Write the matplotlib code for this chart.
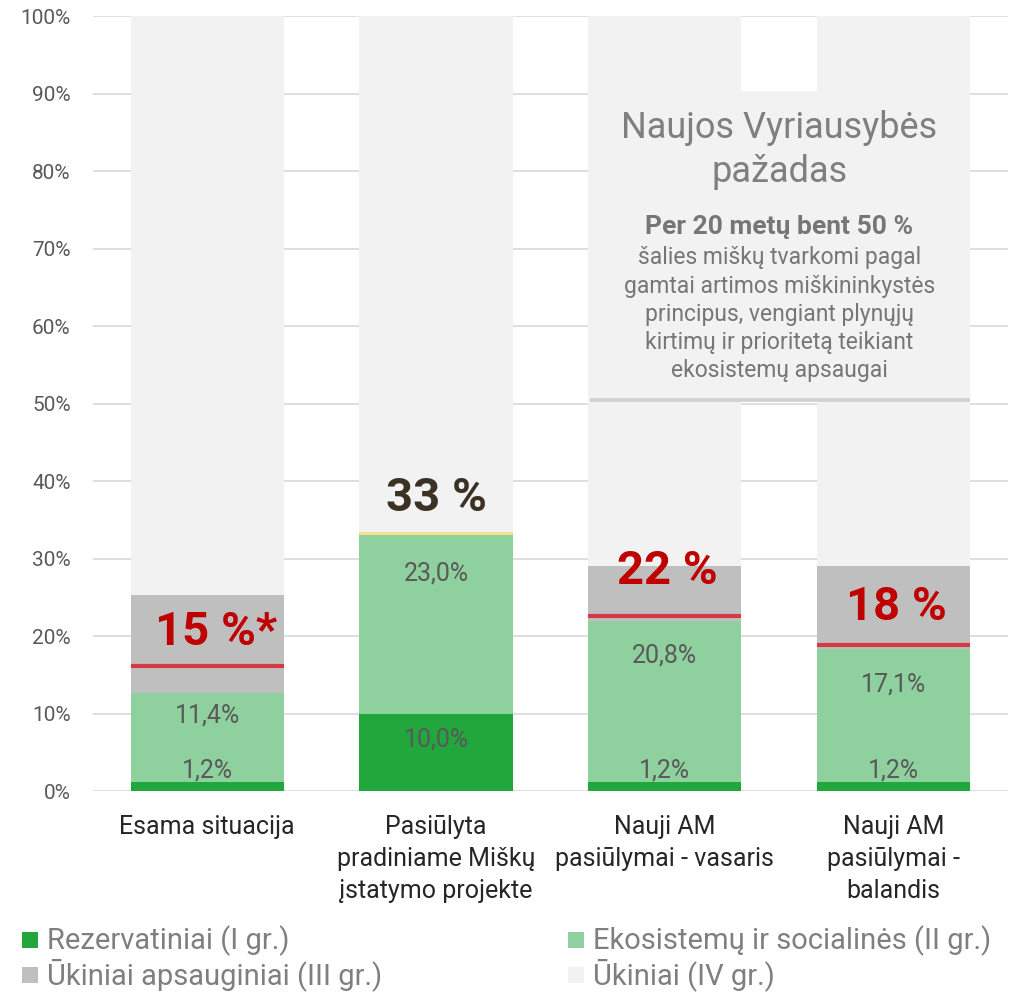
import numpy as np
import matplotlib.pyplot as plt
from matplotlib.patches import Rectangle

categories = ["Esama situacija",
              "Pasiūlyta\npradiniame Miškų\nįstatymo projekte",
              "Nauji AM\npasiūlymai - vasaris",
              "Nauji AM\npasiūlymai -\nbalandis"]
gr1 = [1.2, 10.0, 1.2, 1.2]
gr2 = [11.4, 23.0, 20.8, 17.1]
extra = [0.0, 0.4, 0.0, 0.0]          # thin yellow band on bar 2
gr3 = [12.7, 0.0, 7.0, 10.7]
totals = [100, 100, 100, 100]
red_line = [16.1, None, 22.6, 18.8]
big_labels = ["15 %*", "33 %", "22 %", "18 %"]
big_colors = ["#c00000", "#3b3124", "#c00000", "#c00000"]
big_y = [20.5, 37.8, 28.4, 23.8]
big_dx = [0.04, 0.0, 0.01, 0.01]
gr1_labels = ["1,2%", "10,0%", "1,2%", "1,2%"]
gr1_label_y = [2.7, 6.7, 2.7, 2.7]
gr2_labels = ["11,4%", "23,0%", "20,8%", "17,1%"]
gr2_label_y = [9.7, 28.1, 17.5, 13.7]
legend_names = ["Rezervatiniai (I gr.)", "Ekosistemų ir socialinės (II gr.)",
                "Ūkiniai apsauginiai (III gr.)", "Ūkiniai (IV gr.)"]

c1, c2, c3, c4, cy = "#21a73c", "#8fd19e", "#bfbfbf", "#f2f2f2", "#f5e08e"
plt.rcParams['font.family'] = ['Roboto', 'DejaVu Sans']

fig = plt.figure(figsize=(10.1, 9.97), dpi=100)
ax = fig.add_axes([0.092, 0.2066, 0.906, 0.7773])
x = np.arange(len(categories))
w = 0.67

b1 = np.array(gr1)
b2 = b1 + np.array(gr2)
b3 = b2 + np.array(extra)
b4 = b3 + np.array(gr3)
ax.bar(x, gr1, w, color=c1, zorder=2)
ax.bar(x, gr2, w, bottom=b1, color=c2, zorder=2)
ax.bar(x, extra, w, bottom=b2, color=cy, zorder=2)
ax.bar(x, gr3, w, bottom=b3, color=c3, zorder=2)
ax.bar(x, np.array(totals) - b4, w, bottom=b4, color=c4, zorder=2)

for i in range(len(x)):
    if red_line[i] is not None:
        ax.plot([x[i] - w / 2, x[i] + w / 2], [red_line[i]] * 2, color="#d43a45",
                lw=3, solid_capstyle="butt", zorder=4)
    ax.text(x[i] + big_dx[i], big_y[i], big_labels[i], ha="center", va="center",
            fontsize=34, fontweight="bold", color=big_colors[i], zorder=6)
    ax.text(x[i], gr1_label_y[i], gr1_labels[i], ha="center", va="center",
            fontsize=18, color="#595959", zorder=5)
    ax.text(x[i], gr2_label_y[i], gr2_labels[i], ha="center", va="center",
            fontsize=18, color="#595959", zorder=5)

# promise box over bars 3-4
bx0, bx1 = x[2] - w / 2, x[3] + w / 2
ax.add_patch(Rectangle((bx0, 50.3), bx1 - bx0, 40.0, facecolor=c4,
                       edgecolor="none", zorder=3))
ax.plot([bx0 + 0.01, bx1], [50.4, 50.4], color="#d0d0d0", lw=2.6,
        solid_capstyle="butt", zorder=4)
bxc = (bx0 + bx1) / 2
ax.text(bxc, 85.5, "Naujos Vyriausybės", ha="center", va="center",
        fontsize=26, color="#7f7f7f", zorder=5)
ax.text(bxc, 79.9, "pažadas", ha="center", va="center",
        fontsize=26, color="#7f7f7f", zorder=5)
ax.text(bxc, 72.8, "Per 20 metų bent 50 %", ha="center", va="center",
        fontsize=19, fontweight="bold", color="#767676", zorder=5)
body = ["šalies miškų tvarkomi pagal", "gamtai artimos miškininkystės",
        "principus, vengiant plynųjų", "kirtimų ir prioritetą teikiant",
        "ekosistemų apsaugai"]
for k, line in enumerate(body):
    ax.text(bxc, 68.8 - k * 3.64, line, ha="center", va="center",
            fontsize=16.5, color="#767676", zorder=5)

ax.set_xlim(-0.5, 3.5)
ax.set_ylim(0, 100)
ax.set_yticks(np.arange(0, 101, 10))
ax.set_yticklabels([f"{v}%" for v in range(0, 101, 10)])
ax.set_xticks(x)
ax.set_xticklabels(categories, fontsize=18, color="#262626", linespacing=1.42,
                   va="top")
ax.tick_params(axis="y", labelsize=15, labelcolor="#595959", length=0, pad=16)
ax.tick_params(axis="x", length=0, pad=17)
ax.grid(axis="y", color="#d9d9d9", lw=1.2, zorder=0)
ax.set_axisbelow(True)
for s in ax.spines.values():
    s.set_visible(False)

# legend
leg_pos = [(0.022, 0.057), (0.562, 0.057), (0.022, 0.022), (0.562, 0.022)]
leg_cols = [c1, c2, c3, c4]
for (lx, ly), col, name in zip(leg_pos, leg_cols, legend_names):
    fig.patches.append(Rectangle((lx, ly - 0.008), 0.016, 0.016, transform=fig.transFigure,
                                 facecolor=col, edgecolor="none"))
    fig.text(lx + 0.025, ly, name, ha="left", va="center", fontsize=21,
             color="#7f7f7f")

fig.savefig("out.png", dpi=100)
